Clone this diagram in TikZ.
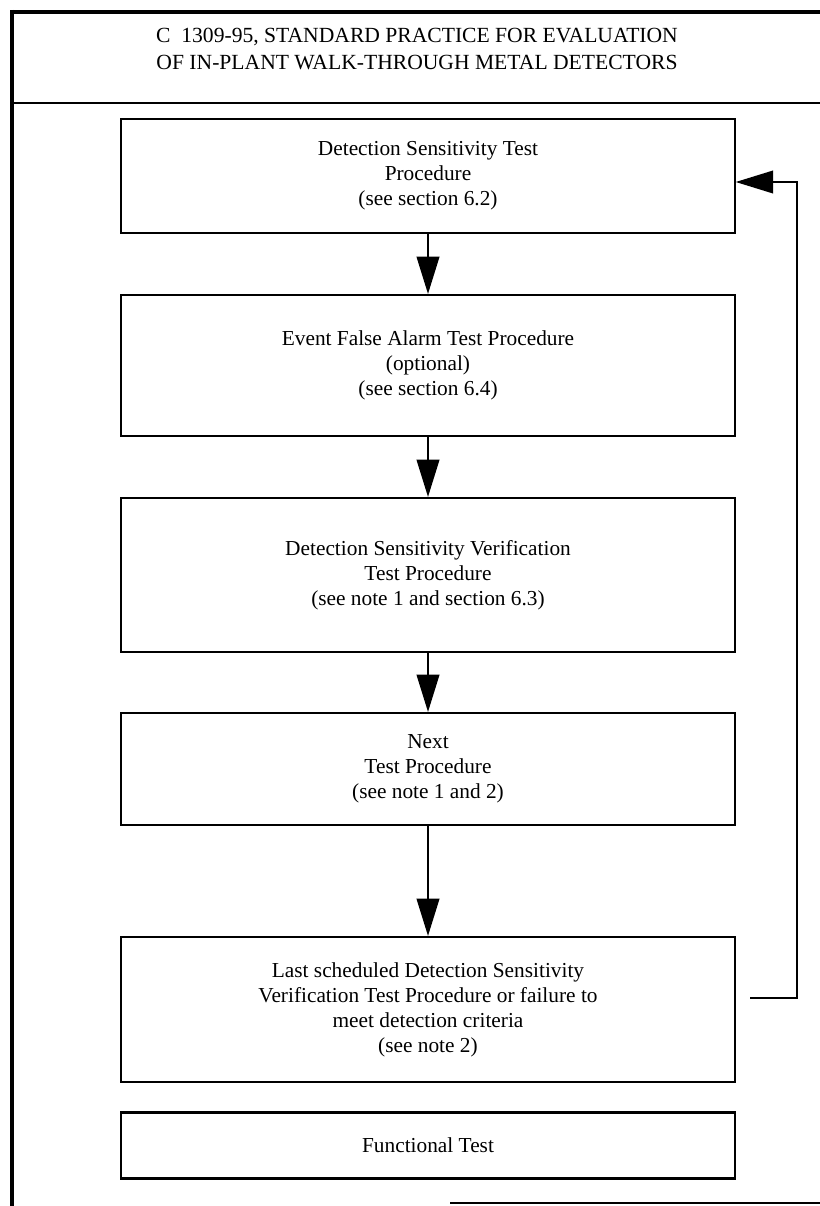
\documentclass[tikz,border=0pt]{standalone}
\usepackage{fontspec}
\setmainfont{Liberation Serif}
\usetikzlibrary{arrows.meta}

\begin{document}
\begin{tikzpicture}[x=0.75pt, y=-0.75pt,
    procbox/.style={rectangle, draw, line width=1.6pt, minimum width=460pt, align=center, font=\fontsize{16}{18.75}\selectfont},
    flow/.style={line width=1.5pt, -{Triangle[length=28pt, width=17pt]}},
    loopline/.style={line width=1.1pt, -{Triangle[length=28pt, width=17pt]}}]
    \useasboundingbox (0, 0) rectangle (820, 1206);

    % 枠
    \draw[line width=3pt] (12, 12) -- (820, 12);
    \draw[line width=3pt] (12, 10) -- (12, 1206);
    \draw[line width=2pt] (12, 103) -- (820, 103);
    \draw[line width=2pt] (450, 1203) -- (820, 1203);

    % タイトル
    \node[align=center, font=\fontsize{16.2}{20.25}\selectfont] (title) at (417, 49) {C~~1309-95, STANDARD PRACTICE FOR EVALUATION\\OF IN-PLANT WALK-THROUGH METAL DETECTORS};

    % ノード
    \node[procbox, minimum height=85.5pt] (sens) at (428, 176) {Detection Sensitivity Test\\Procedure\\(see section 6.2)};
    \node[procbox, minimum height=105.75pt] (alarm) at (428, 365.5) {Event False Alarm Test Procedure\\(optional)\\(see section 6.4)};
    \node[procbox, minimum height=115.5pt] (verify) at (428, 575) {Detection Sensitivity Verification\\Test Procedure\\(see note 1 and section 6.3)};
    \node[procbox, minimum height=84pt] (next) at (428, 769) {Next\\Test Procedure\\(see note 1 and 2)};
    \node[procbox, minimum height=108.75pt] (last) at (428, 1009.5) {Last scheduled Detection Sensitivity\\Verification Test Procedure or failure to\\meet detection criteria\\(see note 2)};
    \node[procbox, minimum height=49.5pt] (func) at (428, 1145.5) {Functional Test};

    % エッジ
    \draw[flow] (sens) -- (alarm);
    \draw[flow] (alarm) -- (verify);
    \draw[flow] (verify) -- (next);
    \draw[flow] (next) -- (last);
    \coordinate (loop) at (797, 998);
    \draw[loopline, shorten <=11pt] (last.east |- loop) -- (loop) |- ([yshift=-4.5pt]sens.east);
\end{tikzpicture}
\end{document}
